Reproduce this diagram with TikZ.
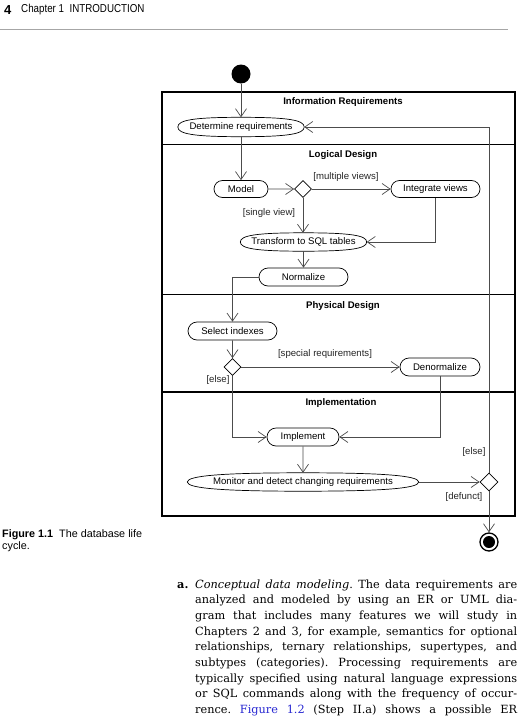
\documentclass[tikz,border=0pt]{standalone}
\usepackage{fontspec}
\setmainfont{Liberation Sans}
\newfontfamily\serifbody{DejaVu Serif}
\newfontfamily\condfont[FakeStretch=0.85]{Liberation Sans}
\usetikzlibrary{shapes.geometric,shapes.misc,arrows.meta}
\definecolor{linkblue}{RGB}{40,40,210}
\definecolor{lcol}{gray}{0.3}
\frenchspacing
\newcommand{\flatell}[4]{%
  \draw[nline] (#1.west) .. controls +(0,-#3*#4) and +(-#2*#4,0) .. (#1.north)
    .. controls +(#2*#4,0) and +(0,-#3*#4) .. (#1.east)
    .. controls +(0,#3*#4) and +(#2*#4,0) .. (#1.south)
    .. controls +(-#2*#4,0) and +(0,#3*#4) .. (#1.west) -- cycle;}
\begin{document}
\begin{tikzpicture}[x=1pt,y=-1pt,
  nline/.style={draw=black, line width=0.7pt},
  act/.style={rounded rectangle, nline, inner sep=0pt, minimum height=17pt, font=\fontsize{9.6}{10}\selectfont},
  ell/.style={rectangle, inner sep=0pt, minimum height=18pt, font=\fontsize{9.6}{10}\selectfont},
  dec/.style={diamond, nline, inner sep=0pt, minimum width=17pt, minimum height=17pt},
  flow/.style={draw=lcol, line width=0.7pt, -{Straight Barb[length=8pt,width=11pt]}},
  lab/.style={font=\fontsize{9.6}{10}\selectfont, inner sep=0pt, text=black!85},
  ttl/.style={font=\bfseries\fontsize{9.6}{10}\selectfont, inner sep=0pt},
  body/.style={anchor=base west, inner sep=0pt, font=\serifbody\fontsize{11.3}{13}\selectfont}
]
\useasboundingbox[fill=white] (0,0) rectangle (532,720);

% header
\node[anchor=west, inner sep=0pt, font=\bfseries\fontsize{13}{15}\selectfont] (pnum) at (4,10) {4};
\node[anchor=west, inner sep=0pt, font=\condfont\fontsize{11.5}{13}\selectfont] (chap) at (21,10) {Chapter 1\ \ INTRODUCTION};
\coordinate (hr1) at (0,29);
\coordinate (hr2) at (508,29);
\draw[gray!70, line width=0.6pt] (hr1) -- (hr2);

% frame
\coordinate (fa) at (162,92);
\coordinate (fb) at (515,516);
\draw[line width=1.3pt] (fa) rectangle (fb);
\coordinate (s1a) at (162,144.5); \coordinate (s1b) at (515,144.5);
\coordinate (s2a) at (162,294.5); \coordinate (s2b) at (515,294.5);
\coordinate (s3a) at (162,392);   \coordinate (s3b) at (515,392);
\draw[line width=1.3pt] (s1a) -- (s1b) (s2a) -- (s2b) (s3a) -- (s3b);

\node[ttl] (t1) at (343,102) {Information Requirements};
\node[ttl] (t2) at (343,155) {Logical Design};
\node[ttl] (t3) at (343,306) {Physical Design};
\node[ttl] (t4) at (341,403) {Implementation};

% nodes
\node[circle, fill=black, minimum size=19pt, inner sep=0pt] (start) at (241,74) {};
\node[ell, minimum width=126pt, minimum height=19pt] (det) at (241,127) {Determine requirements};
\node[act, minimum width=54pt] (model) at (241,189) {Model};
\node[dec] (d1) at (303,189) {};
\node[act, minimum width=89pt] (integ) at (435.5,189) {Integrate views};
\node[ell, minimum width=126pt] (trans) at (303.5,242) {Transform to SQL tables};
\node[act, minimum width=89pt, minimum height=18pt] (norm) at (303.5,277) {Normalize};
\node[act, minimum width=89pt, minimum height=18pt] (sel) at (232.5,331) {Select indexes};
\node[dec] (d2) at (232.5,367) {};
\node[act, minimum width=80pt, minimum height=18pt] (denorm) at (440,367) {Denormalize};
\node[act, minimum width=72pt, minimum height=18pt] (impl) at (303,437) {Implement};
\node[ell, minimum width=231pt] (mon) at (303,482) {Monitor and detect changing requirements};
\node[dec, minimum width=18pt, minimum height=18pt] (d3) at (489,482) {};
\node[circle, draw=black, line width=1.3pt, minimum size=18pt, inner sep=0pt] (end) at (489,542) {};
\node[circle, fill=black, minimum size=12pt, inner sep=0pt] (endin) at (489,542) {};

% ellipse outlines (slightly flattened)
\flatell{det}{63}{9.5}{0.74}
\flatell{trans}{63}{9}{0.74}
\flatell{mon}{115.5}{9}{0.7}

% connectors
\draw[flow] (start) -- (det);
\draw[flow] (det) -- (model);
\draw[flow] (model) -- (d1);
\draw[flow] (d1) -- (integ);
\draw[flow] (d1.south) -- (d1.south |- trans.north);
\draw[flow] (integ.south) |- (trans.east);
\draw[flow] (trans) -- (norm);
\draw[flow] (norm.west) -| (sel.north);
\draw[flow] (sel) -- (d2);
\draw[flow] (d2) -- (denorm);
\draw[flow] (d2.south) |- (impl.west);
\draw[flow] (denorm.south) |- (impl.east);
\draw[flow] (impl) -- (mon);
\draw[flow] (mon) -- (d3);
\draw[flow] (d3.north) |- (det.east);
\draw[flow] (d3.south) -- (end.north);

% guard labels
\node[lab] (g1) at (346,177) {[multiple views]};
\node[lab] (g2) at (269,213) {[single view]};
\node[lab] (g3) at (325,354) {[special requirements]};
\node[lab] (g4) at (218,380) {[else]};
\node[lab] (g5) at (474,452) {[else]};
\node[lab] (g6) at (464,497) {[defunct]};

% caption
\node[anchor=base west, inner sep=0pt, font=\fontsize{10.8}{12}\selectfont] (cap1) at (2,537) {\textbf{Figure 1.1}\ \ The database life};
\node[anchor=base west, inner sep=0pt, font=\fontsize{10.8}{12}\selectfont] (cap2) at (2,549.5) {cycle.};

% body text
\node[anchor=base west, inner sep=0pt, font=\serifbody\bfseries\fontsize{11.3}{13}\selectfont] (la) at (177,588) {a.};
\node[body] (l1) at (195,588) {\makebox[322pt][s]{\textit{Conceptual data modeling}. The data requirements are}};
\node[body] (l2) at (195,603.7) {\makebox[322pt][s]{analyzed and modeled by using an ER or UML dia-}};
\node[body] (l3) at (195,619.4) {\makebox[322pt][s]{gram that includes many features we will study in}};
\node[body] (l4) at (195,635.1) {\makebox[322pt][s]{Chapters 2 and 3, for example, semantics for optional}};
\node[body] (l5) at (195,650.8) {\makebox[322pt][s]{relationships, ternary relationships, supertypes, and}};
\node[body] (l6) at (195,666.5) {\makebox[322pt][s]{subtypes (categories). Processing requirements are}};
\node[body] (l7) at (195,682.2) {\makebox[322pt][s]{typically specified using natural language expressions}};
\node[body] (l8) at (195,697.9) {\makebox[322pt][s]{or SQL commands along with the frequency of occur-}};
\node[body] (l9) at (195,713.6) {\makebox[322pt][s]{rence. \textcolor{linkblue}{Figure 1.2} (Step II.a) shows a possible ER}};
\end{tikzpicture}
\end{document}
